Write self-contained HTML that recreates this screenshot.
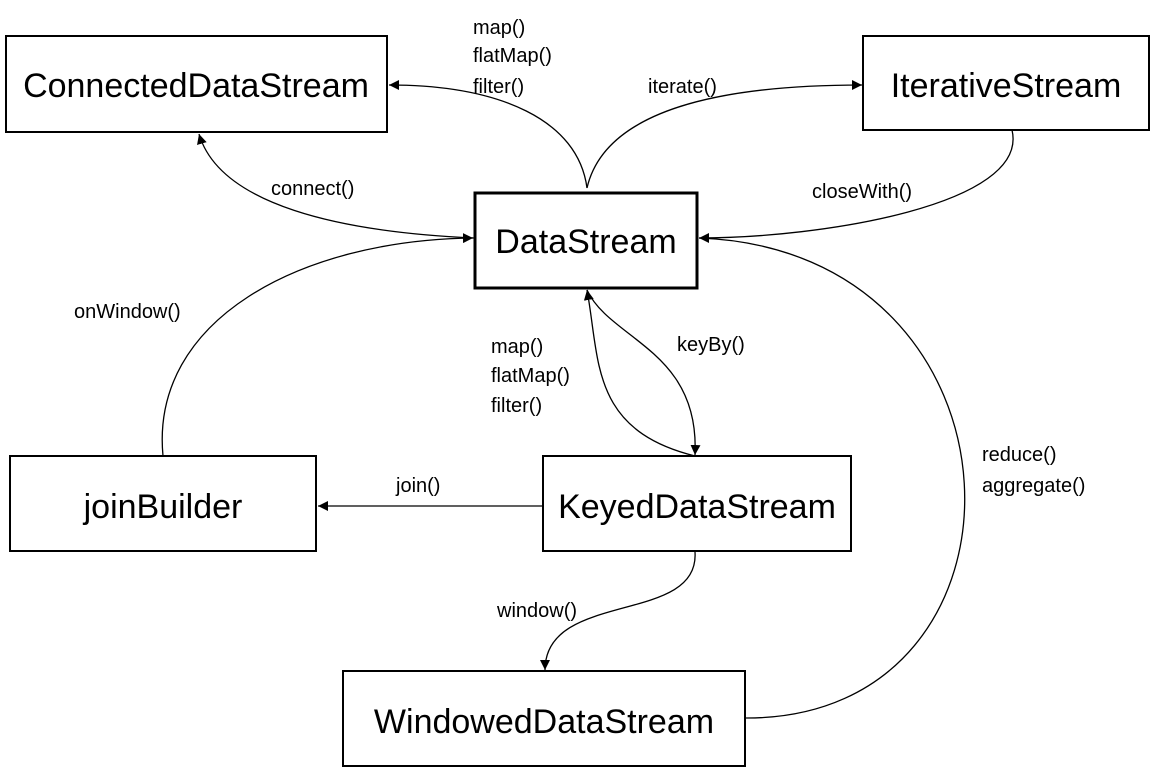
<!DOCTYPE html>
<html><head><style>
body{margin:0;background:#fff;}
svg{display:block;}
text{font-family:"Liberation Sans",Arial,sans-serif;fill:#000;}
.b{font-size:34px;}
.l{font-size:20px;}
</style></head><body>
<svg width="1160" height="770" viewBox="0 0 1160 770" xmlns="http://www.w3.org/2000/svg">
<defs>
<marker id="a" viewBox="0 0 10 10" refX="10" refY="5" markerWidth="10" markerHeight="10" markerUnits="userSpaceOnUse" orient="auto">
<path d="M0,0 L10,5 L0,10 z" fill="#000"/></marker>
</defs>
<g fill="#fff" stroke="#000" stroke-width="2">
<rect x="6" y="36" width="381" height="96"/>
<rect x="863" y="36" width="286" height="94"/>
<rect x="475" y="193" width="222" height="95" stroke-width="3"/>
<rect x="10" y="456" width="306" height="95"/>
<rect x="543" y="456" width="308" height="95"/>
<rect x="343" y="671" width="402" height="95"/>
</g>
<g fill="none" stroke="#000" stroke-width="1.3">
<path d="M587,188 C578,120 500,85 389,85" marker-end="url(#a)"/>
<path d="M587,188 C605,110 720,85 862,85" marker-end="url(#a)"/>
<path d="M1012,130 C1030,205 820,238 699,238" marker-end="url(#a)"/>
<path d="M474,238 C340,232 220,205 199,134" marker-end="url(#a)"/>
<path d="M163,456 C150,320 300,240 473,238" marker-end="url(#a)"/>
<path d="M695,456 C590,430 600,360 587,290" marker-end="url(#a)"/>
<path d="M587,290 C610,340 700,350 695,455" marker-end="url(#a)"/>
<path d="M543,506 L318,506" marker-end="url(#a)"/>
<path d="M695,552 C700,625 545,590 545,670" marker-end="url(#a)"/>
<path d="M745,718 C1050,720 1040,250 699,238"/>
</g>
<g class="b" text-anchor="middle">
<text x="196" y="97">ConnectedDataStream</text>
<text x="1006" y="97">IterativeStream</text>
<text x="586" y="253">DataStream</text>
<text x="163" y="518">joinBuilder</text>
<text x="697" y="518">KeyedDataStream</text>
<text x="544" y="733">WindowedDataStream</text>
</g>
<g class="l">
<text x="473" y="34">map()</text>
<text x="473" y="62">flatMap()</text>
<text x="473" y="93">filter()</text>
<text x="648" y="93">iterate()</text>
<text x="271" y="195">connect()</text>
<text x="812" y="198">closeWith()</text>
<text x="74" y="318">onWindow()</text>
<text x="491" y="353">map()</text>
<text x="491" y="382">flatMap()</text>
<text x="491" y="412">filter()</text>
<text x="677" y="351">keyBy()</text>
<text x="396" y="492">join()</text>
<text x="982" y="461">reduce()</text>
<text x="982" y="492">aggregate()</text>
<text x="497" y="617">window()</text>
</g>
</svg>
</body></html>
